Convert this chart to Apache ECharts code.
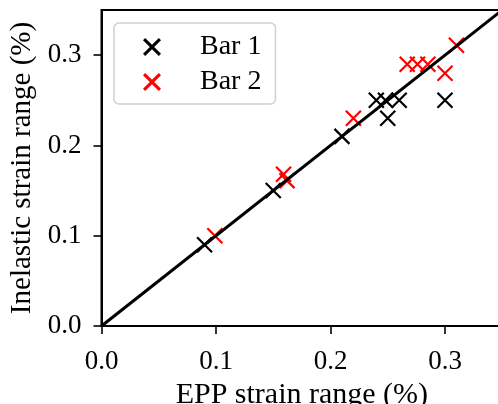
<!DOCTYPE html>
<html>
<head>
<meta charset="utf-8">
<script src="https://cdn.jsdelivr.net/npm/echarts@6/dist/echarts.min.js"></script>
<style>
  html, body { margin: 0; padding: 0; background: #fff; }
  #chart { width: 498px; height: 404px; }
</style>
</head>
<body>
<div id="chart"></div>
<script>
// Strain ranges (%) for each bar: [EPP, inelastic]
const bar1Points = [
  [0.090, 0.090], [0.150, 0.150], [0.210, 0.210],
  [0.240, 0.250], [0.248, 0.250], [0.260, 0.250],
  [0.250, 0.230], [0.300, 0.250]
];
const bar2Points = [
  [0.099, 0.100], [0.159, 0.168], [0.162, 0.161],
  [0.220, 0.230], [0.267, 0.290], [0.276, 0.290],
  [0.285, 0.290], [0.300, 0.280], [0.310, 0.311]
];
// 1:1 reference line
const identityLine = [[0, 0], [0.35, 0.35]];
const tickValues = [0, 0.1, 0.2, 0.3];
const seriesNames = ['Bar 1', 'Bar 2'];

const FONT = '"Liberation Serif", "DejaVu Serif", serif';
// stroked cross for the data markers
const crossPath = 'path://M0,0L10,10M10,0L0,10';
// filled cross outline for the legend swatches
const crossFill = 'path://M0,12L12,0L50,38L88,0L100,12L62,50L100,88L88,100L50,62L12,100L0,88L38,50Z';

const chart = echarts.init(document.getElementById('chart'), null, { renderer: 'canvas' });

const axisCommon = {
  type: 'value',
  min: 0,
  max: 0.35,
  interval: 0.1,
  splitLine: { show: false },
  axisLine: { show: true, onZero: false, lineStyle: { color: '#000', width: 2 } },
  axisTick: { show: true, inside: false, length: 8, customValues: tickValues,
              lineStyle: { color: '#000', width: 1.6 } },
  axisLabel: { customValues: tickValues, formatter: v => v.toFixed(1),
               color: '#000', fontFamily: FONT, fontSize: 27 },
  nameLocation: 'middle',
  nameTextStyle: { color: '#000', fontFamily: FONT, fontSize: 30 }
};

function crossSeries(name, color, data) {
  return {
    name: name,
    type: 'scatter',
    data: data,
    symbol: crossPath,
    symbolSize: 15,
    symbolKeepAspect: true,
    itemStyle: { color: color, borderColor: color, borderWidth: 2.2, opacity: 1 },
    emphasis: { disabled: true },
    z: 2
  };
}

chart.setOption({
  animation: false,
  backgroundColor: '#fff',
  grid: {
    left: 101.5, top: 10, width: 400.75, height: 316,
    outerBoundsMode: 'none',
    show: true, borderColor: '#000', borderWidth: 2, backgroundColor: 'transparent'
  },
  xAxis: Object.assign({}, axisCommon, {
    name: 'EPP strain range (%)',
    nameGap: 49,
    axisLabel: Object.assign({}, axisCommon.axisLabel, { margin: 22 })
  }),
  yAxis: Object.assign({}, axisCommon, {
    name: 'Inelastic strain range (%)',
    nameGap: 57,
    nameTextStyle: { color: '#000', fontFamily: FONT, fontSize: 29 },
    axisLabel: Object.assign({}, axisCommon.axisLabel, { margin: 20 })
  }),
  legend: {
    data: seriesNames.map(n => ({ name: n, icon: crossFill })),
    orient: 'vertical',
    left: 114, top: 23,
    padding: [10, 14, 8, 29],
    itemWidth: 18, itemHeight: 18,
    itemGap: 7,
    itemStyle: { borderWidth: 0 },
    backgroundColor: 'rgba(255,255,255,0.8)',
    borderColor: '#d0d0d0', borderWidth: 1.5, borderRadius: 5,
    textStyle: { color: '#000', fontFamily: FONT, fontSize: 28,
                 padding: [0, 0, 0, 34] }
  },
  series: [
    crossSeries(seriesNames[0], '#000000', bar1Points),
    crossSeries(seriesNames[1], '#ff0000', bar2Points),
    {
      type: 'line',
      data: identityLine,
      symbol: 'none',
      lineStyle: { color: '#000', width: 3 },
      silent: true,
      z: 3
    }
  ]
});
</script>
</body>
</html>
